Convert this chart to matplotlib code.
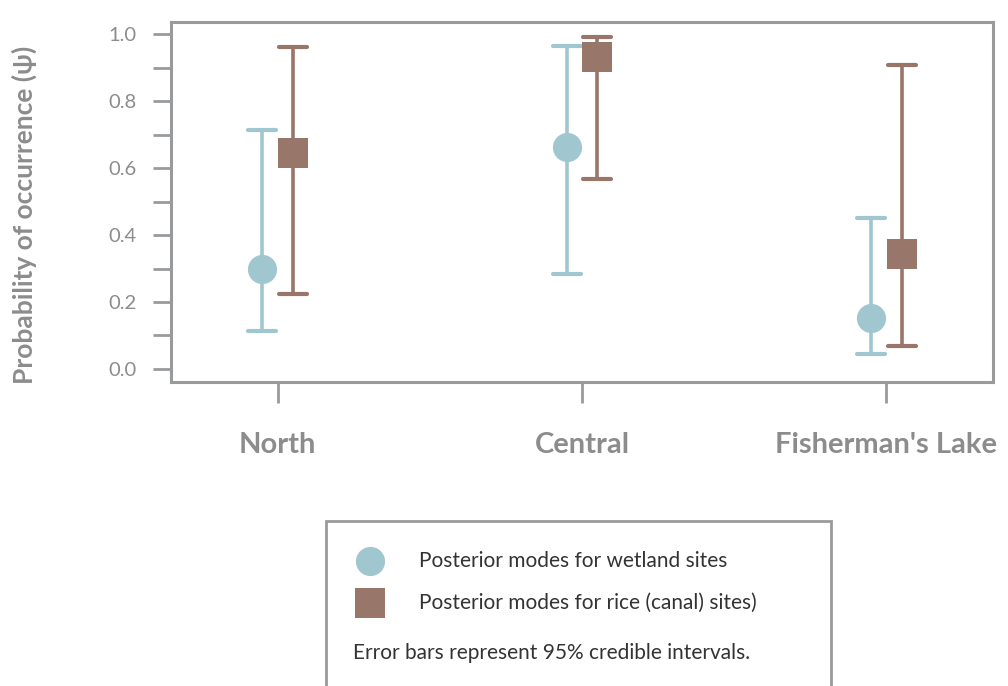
import matplotlib.pyplot as plt
from matplotlib.lines import Line2D
from matplotlib.markers import MarkerStyle
from matplotlib.patches import Rectangle
import numpy as np

plt.rcParams['font.family'] = ['Lato', 'DejaVu Sans']

sites = ["North", "Central", "Fisherman's Lake"]

# posterior modes and 95% credible intervals
wetland_mode = [0.30, 0.664, 0.153]
wetland_lo = [0.113, 0.283, 0.044]
wetland_hi = [0.713, 0.965, 0.451]

rice_mode = [0.647, 0.931, 0.343]
rice_lo = [0.223, 0.567, 0.070]
rice_hi = [0.962, 0.991, 0.908]

wet_col = '#a0c6cf'
rice_col = '#99766a'
grey = '#999a9c'
label_grey = '#8c8c8c'

fig = plt.figure(figsize=(10.08, 6.86), dpi=100)
ax = fig.add_axes([171/1008, 1-382/686, 822/1008, 360.3/686])

x = np.arange(len(sites))
off = 0.05

wm = np.array(wetland_mode)
rm = np.array(rice_mode)
eb1 = ax.errorbar(x - off, wm, yerr=[wm - np.array(wetland_lo), np.array(wetland_hi) - wm],
                  fmt='o', color=wet_col, ms=21, elinewidth=2.6, capsize=10, capthick=3)
eb2 = ax.errorbar(x + off, rm, yerr=[rm - np.array(rice_lo), np.array(rice_hi) - rm],
                  fmt='s', color=rice_col, ms=21, elinewidth=2.6, capsize=10, capthick=3)
for eb in (eb1, eb2):
    eb[0].set_markeredgewidth(0)
    eb[0].set_zorder(3)
    for cap in eb[1]:
        cap.set_marker(MarkerStyle('_', capstyle='round'))

ax.set_xlim(-0.35, 2.35)
ax.set_ylim(-0.039, 1.038)
ax.set_xticks(x)
ax.set_xticklabels(sites, fontsize=21, fontweight='bold', color=label_grey)
ax.set_yticks(np.arange(0, 1.01, 0.2))
ax.set_yticks(np.arange(0, 1.01, 0.1), minor=True)
ax.yaxis.set_major_formatter(plt.FormatStrFormatter('%.1f'))
ax.tick_params(axis='y', which='both', length=13, width=2, color=grey, pad=12,
               labelsize=14.5, labelcolor=label_grey)
ax.tick_params(axis='x', length=15, width=2, color=grey, pad=21)
for s in ax.spines.values():
    s.set_color(grey)
    s.set_linewidth(2.2)

ax.set_ylabel('Probability of occurrence (ψ)', fontsize=19, fontweight='bold', color=label_grey)
ax.yaxis.set_label_coords(-0.178, 0.465)
ax.yaxis.label.set_va('center')

# legend box below the plot
W, H = 1008, 686
fig.patches.append(Rectangle((326/W, -0.05), 505/W, 0.05 + 1 - 521/H, transform=fig.transFigure,
                             fill=False, edgecolor=grey, linewidth=2))
fig.add_artist(Line2D([370/W], [1-561/H], marker='o', ms=21, mew=0, color=wet_col, transform=fig.transFigure))
fig.add_artist(Line2D([370/W], [1-603/H], marker='s', ms=21, mew=0, color=rice_col, transform=fig.transFigure))
fig.text(419/W, 1-561/H, 'Posterior modes for wetland sites', fontsize=15, color='#333333', va='center')
fig.text(419/W, 1-603/H, 'Posterior modes for rice (canal) sites)', fontsize=15, color='#333333', va='center')
fig.text(353/W, 1-653/H, 'Error bars represent 95% credible intervals.', fontsize=15, color='#333333', va='center')

fig.savefig('out.png', dpi=100)
